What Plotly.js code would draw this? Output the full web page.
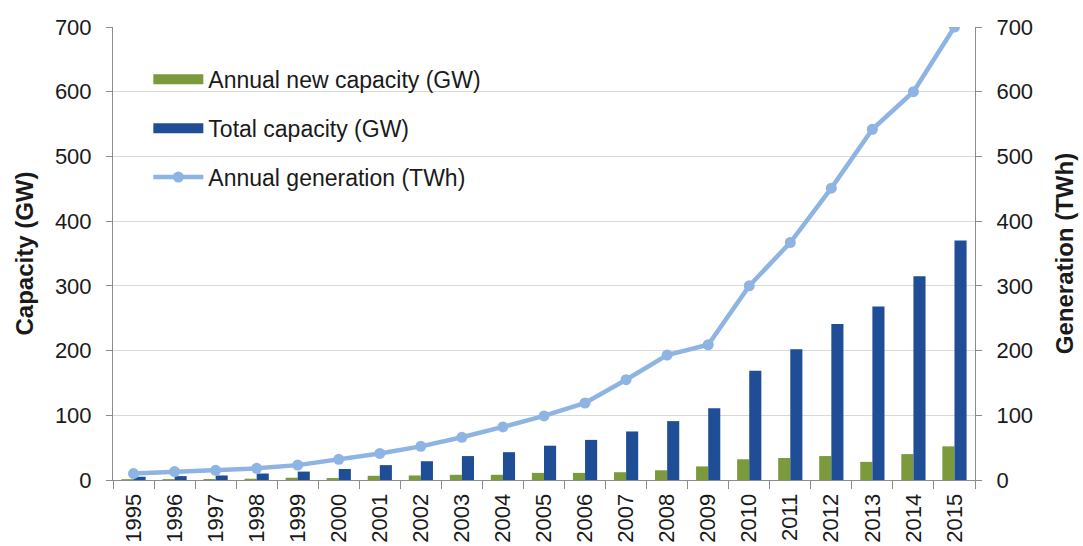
<!DOCTYPE html>
<html>
<head>
<meta charset="utf-8">
<script src="https://cdn.plot.ly/plotly-3.0.1.min.js"></script>
<style>html,body{margin:0;padding:0;background:#fff;}#chart{width:1083px;height:546px;}</style>
</head>
<body>
<div id="chart"></div>
<script>
var years = ["1995","1996","1997","1998","1999","2000","2001","2002","2003","2004","2005","2006","2007","2008","2009","2010","2011","2012","2013","2014","2015"];
var newCapacity = [1.3, 1.4, 1.5, 2, 3.5, 3, 6.5, 7, 8, 8, 11, 11, 12, 15, 21, 32, 34, 37, 28, 40, 52];
var totalCapacity = [5, 6, 7, 10, 13, 17, 23, 29, 37, 43, 53, 62, 75, 91, 111, 169, 202, 241, 268, 315, 370];
var generation = [10, 13, 15, 18, 23, 32, 41, 52, 66, 82, 99, 119, 155, 193, 209, 300, 367, 451, 542, 600, 700];
var capTicks = [0, 100, 200, 300, 400, 500, 600, 700];

var font = "Liberation Sans, Arial, sans-serif";
var green = "#7a9a3c", blue = "#1f4e96", light = "#8db4e2";

var traces = [
  {type: "bar", x: years, y: newCapacity, name: "Annual new capacity (GW)",
   marker: {color: green}, showlegend: false},
  {type: "bar", x: years, y: totalCapacity, name: "Total capacity (GW)",
   marker: {color: blue}, showlegend: false},
  {type: "scatter", mode: "lines+markers", x: years, y: generation, yaxis: "y2",
   name: "Annual generation (TWh)", legendgroup: "c", legendrank: 3,
   line: {color: light, width: 4.5}, marker: {color: light, size: 11}},
  // legend-only entries that show wide bar swatches
  {type: "scatter", mode: "lines", x: [null], y: [null], name: "Annual new capacity (GW)",
   legendgroup: "a", line: {color: green, width: 10}, legendrank: 1},
  {type: "scatter", mode: "lines", x: [null], y: [null], name: "Total capacity (GW)",
   legendgroup: "b", line: {color: blue, width: 10}, legendrank: 2}
];

var layout = {
  width: 1083, height: 546,
  margin: {l: 113, r: 108, t: 27, b: 66},
  paper_bgcolor: "#ffffff", plot_bgcolor: "#ffffff",
  font: {family: font, size: 22, color: "#1a1a1a"},
  barmode: "group", bargap: 0.41, bargroupgap: 0,
  showlegend: true,
  legend: {x: 0.041, y: 0.932, xanchor: "left", yanchor: "top",
           bgcolor: "rgba(255,255,255,0)", font: {family: font, size: 23, color: "#1a1a1a"},
           tracegroupgap: 16, itemwidth: 50, traceorder: "grouped"},
  xaxis: {type: "category", range: [-0.5, 20.5], tickson: "boundaries", ticks: "outside", ticklen: 8,
          tickcolor: "#8c8c8c", showline: true, linecolor: "#8c8c8c", linewidth: 1,
          tickangle: -90, ticklabelstandoff: 4, tickfont: {family: font, size: 22, color: "#1a1a1a"},
          showgrid: false, zeroline: false},
  yaxis: {range: [0, 700], tickvals: capTicks, ticks: "outside", ticklen: 6,
          tickcolor: "#8c8c8c", showline: true, linecolor: "#8c8c8c", linewidth: 1,
          gridcolor: "#d9d9d9", gridwidth: 1, zeroline: false, ticklabelstandoff: 10,
          tickfont: {family: font, size: 22, color: "#1a1a1a"},
          title: {text: "<b>Capacity (GW)</b>", standoff: 14, font: {family: font, size: 24, color: "#1a1a1a"}}},
  yaxis2: {range: [0, 700], tickvals: capTicks, overlaying: "y", side: "right",
           ticks: "outside", ticklen: 6, tickcolor: "#8c8c8c", showline: true,
           linecolor: "#8c8c8c", linewidth: 1, showgrid: false, zeroline: false, ticklabelstandoff: 10,
           tickfont: {family: font, size: 22, color: "#1a1a1a"},
           title: {text: "<b>Generation (TWh)</b>", standoff: 24, font: {family: font, size: 24, color: "#1a1a1a"}}}
};

Plotly.newPlot("chart", traces, layout, {displayModeBar: false, staticPlot: true});
</script>
</body>
</html>
